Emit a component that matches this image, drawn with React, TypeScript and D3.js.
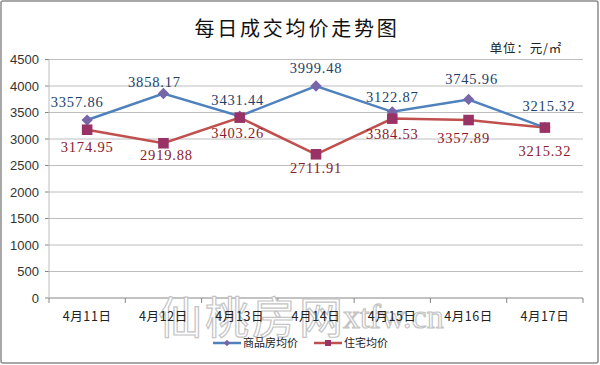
import React from "react";
import * as d3 from "d3";

const categories = ["4月11日", "4月12日", "4月13日", "4月14日", "4月15日", "4月16日", "4月17日"];
const commercial = [3357.86, 3858.17, 3431.44, 3999.48, 3512.87, 3745.96, 3215.32];
const commercialLabels = ["3357.86", "3858.17", "3431.44", "3999.48", "3122.87", "3745.96", "3215.32"];
const residential = [3174.95, 2919.88, 3403.26, 2711.91, 3384.53, 3357.89, 3215.32];
const residentialLabels = ["3174.95", "2919.88", "3403.26", "2711.91", "3384.53", "3357.89", "3215.32"];
const yTicks = [0, 500, 1000, 1500, 2000, 2500, 3000, 3500, 4000, 4500];
const seriesNames = ["商品房均价", "住宅均价"];
const title = "每日成交均价走势图";
const unitText = "单位：元/㎡";
const watermarkCn = "仙桃房网";
const watermarkEn = "xtfw.cn";

// label layout offsets (px) relative to each point
const blueDx = [-10, -9, -2, 0, 0, 3, 4];
const blueDy = [-13, -7, -11, -13, -10, -15, -17];
const redDx = [0, 3, -2, 0, 0, -5, 0];
const redDy = [22, 17, 20, 19, 20, 23, 28];

const W = 600, H = 365;
const left = 49, right = 583, top = 59.5, bottom = 298;

export default function App() {
  const x = d3.scaleBand<string>().domain(categories).range([left, right]);
  const y = d3.scaleLinear().domain([0, 4500]).range([bottom, top]);
  const cx = (c: string) => (x(c) as number) + x.bandwidth() / 2;
  const line = d3.line<number>().x((_, i) => cx(categories[i])).y((v) => y(v));
  const blue = "#4F81BD", red = "#C0504D";
  const diamond = d3.symbol().type(d3.symbolSquare).size(64)() as string;
  const square = d3.symbol().type(d3.symbolSquare).size(112)() as string;
  const cjk = "'Noto Sans CJK SC', sans-serif";
  const serifNum = "'Liberation Serif', 'DejaVu Serif', serif";
  return (
    <svg width={W} height={H} style={{ position: "absolute", left: 0, top: 0 }}>
      <rect x={0} y={0} width={W} height={H} fill="#fff" />
      <rect x={1} y={1} width={597} height={362} fill="#fff" stroke="#8c8c8c" strokeWidth={1.5} rx={2} />
      <text x={297} y={36} textAnchor="middle" fontFamily={cjk} fontSize={20} letterSpacing={2.8} fill="#111">{title}</text>
      <text x={562} y={53} textAnchor="end" fontFamily={cjk} fontSize={12.5} letterSpacing={0.8} fill="#222">{unitText}</text>
      {yTicks.map((t) => (
        <g key={t}>
          <line x1={left} x2={right} y1={y(t)} y2={y(t)} stroke={t === 0 ? "#868686" : "#BEBEBE"} strokeWidth={1} />
          <line x1={left - 4} x2={left} y1={y(t)} y2={y(t)} stroke="#868686" />
          <text x={39} y={y(t) + 4.5} textAnchor="end" fontFamily="'Liberation Sans', Arial, sans-serif" fontSize={13} fill="#333">{t}</text>
        </g>
      ))}
      <line x1={left} x2={left} y1={top} y2={bottom} stroke="#BEBEBE" />
      {categories.map((c, i) => (
        <line key={"tk" + i} x1={(x(c) as number) + x.bandwidth()} x2={(x(c) as number) + x.bandwidth()} y1={bottom} y2={bottom + 5} stroke="#868686" />
      ))}
      <line x1={left} x2={left} y1={bottom} y2={bottom + 5} stroke="#868686" />
      <g fontFamily={cjk} fontSize={44} fill="#fff" stroke="#c4c4c4" strokeWidth={1.2} letterSpacing={3}>
        <text x={158} y={334}>{watermarkCn}</text>
      </g>
      <text x={343} y={328} fontFamily={serifNum} fontSize={34} fill="#fff" stroke="#c4c4c4" strokeWidth={1.2}>{watermarkEn}</text>
      {categories.map((c) => (
        <text key={c} x={cx(c)} y={321} textAnchor="middle" fontFamily={cjk} fontSize={12.5} letterSpacing={0.6} fill="#222">{c}</text>
      ))}
      <path d={line(residential) as string} fill="none" stroke={red} strokeWidth={2.5} />
      <path d={line(commercial) as string} fill="none" stroke={blue} strokeWidth={2.5} />
      {commercial.map((v, i) => (
        <path key={"d" + i} d={diamond} transform={`translate(${cx(categories[i])},${y(v)}) rotate(45)`} fill="#7766A8" />
      ))}
      {residential.map((v, i) => (
        <path key={"s" + i} d={square} transform={`translate(${cx(categories[i])},${y(v)})`} fill="#993366" />
      ))}
      {commercialLabels.map((s, i) => (
        <text key={"lb" + i} x={cx(categories[i]) + blueDx[i]} y={y(commercial[i]) + blueDy[i]} textAnchor="middle" fontFamily={serifNum} fontSize={14.5} letterSpacing={0.8} fill="#1F3F6B">{s}</text>
      ))}
      {residentialLabels.map((s, i) => (
        <text key={"lr" + i} x={cx(categories[i]) + redDx[i]} y={y(residential[i]) + redDy[i]} textAnchor="middle" fontFamily={serifNum} fontSize={14.5} letterSpacing={0.8} fill="#8B1A2B">{s}</text>
      ))}
      <g>
        <line x1={213} x2={241} y1={343} y2={343} stroke={blue} strokeWidth={2.5} />
        <path d={d3.symbol().type(d3.symbolSquare).size(22)() as string} transform="translate(227,343) rotate(45)" fill="#7766A8" />
        <text x={243} y={347} fontFamily={cjk} fontSize={11} fill="#222">{seriesNames[0]}</text>
        <line x1={314} x2={342} y1={343} y2={343} stroke={red} strokeWidth={2.5} />
        <path d={d3.symbol().type(d3.symbolSquare).size(36)() as string} transform="translate(328,343)" fill="#993366" />
        <text x={344} y={347} fontFamily={cjk} fontSize={11} fill="#222">{seriesNames[1]}</text>
      </g>
    </svg>
  );
}
